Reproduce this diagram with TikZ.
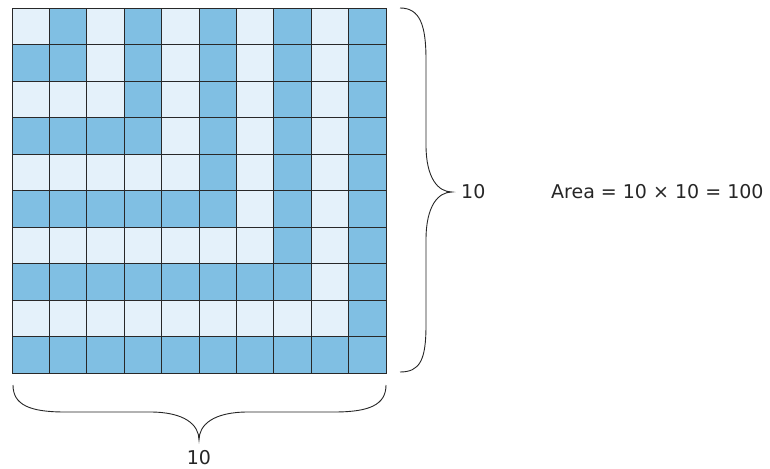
\documentclass[tikz,border=0pt]{standalone}
\usepackage{fontspec}
\setmainfont{DejaVu Sans}
\usepackage{tikz}
\definecolor{cellDark}{RGB}{128,191,227}
\definecolor{cellLight}{RGB}{228,241,250}
\definecolor{gridLine}{RGB}{40,40,40}

\begin{document}
\begin{tikzpicture}[x=1pt, y=-1pt,
  cell/.style={draw=gridLine, line width=0.8pt},
  brc/.style={draw=black!85, line width=0.9pt},
  lbl/.style={font=\fontsize{19}{22}\selectfont, text=black!85, inner sep=0pt}]

  \useasboundingbox (0,0) rectangle (770,468);

  % Grid of gnomons: cell colour set by max(row, column)
  \foreach \r in {1,...,10} {
    \foreach \c in {1,...,10} {
      \pgfmathtruncatemacro\k{max(\r,\c)}
      \pgfmathtruncatemacro\m{mod(\k,2)}
      \ifnum\m=0 \def\fc{cellDark}\else \def\fc{cellLight}\fi
      \draw[cell, fill=\fc] ({12+(\c-1)*37.4},{8+(\r-1)*36.5}) rectangle ++(37.4,36.5);
    }
  }

  % Right brace
  \draw[brc] (400,8) .. controls (420,8) and (426,25) .. (426,60)
    -- (426,145) .. controls (426,178) and (438,192) .. (452,192)
    .. controls (438,192) and (426,206) .. (426,240)
    -- (426,325) .. controls (426,360) and (420,372) .. (400,372);
  \node[lbl, anchor=west] (side) at (461,192) {10};

  % Bottom brace
  \draw[brc] (13,385) .. controls (13,405) and (30,412) .. (65,412)
    -- (150,412) .. controls (185,412) and (199,425) .. (199,440)
    .. controls (199,425) and (213,412) .. (248,412)
    -- (334,412) .. controls (369,412) and (386,405) .. (386,385);
  \node[lbl, anchor=north] (base) at (199,450) {10};

  % Area formula
  \node[lbl, anchor=west] (area) at (551,192) {Area = 10 × 10 = 100};

\end{tikzpicture}
\end{document}
